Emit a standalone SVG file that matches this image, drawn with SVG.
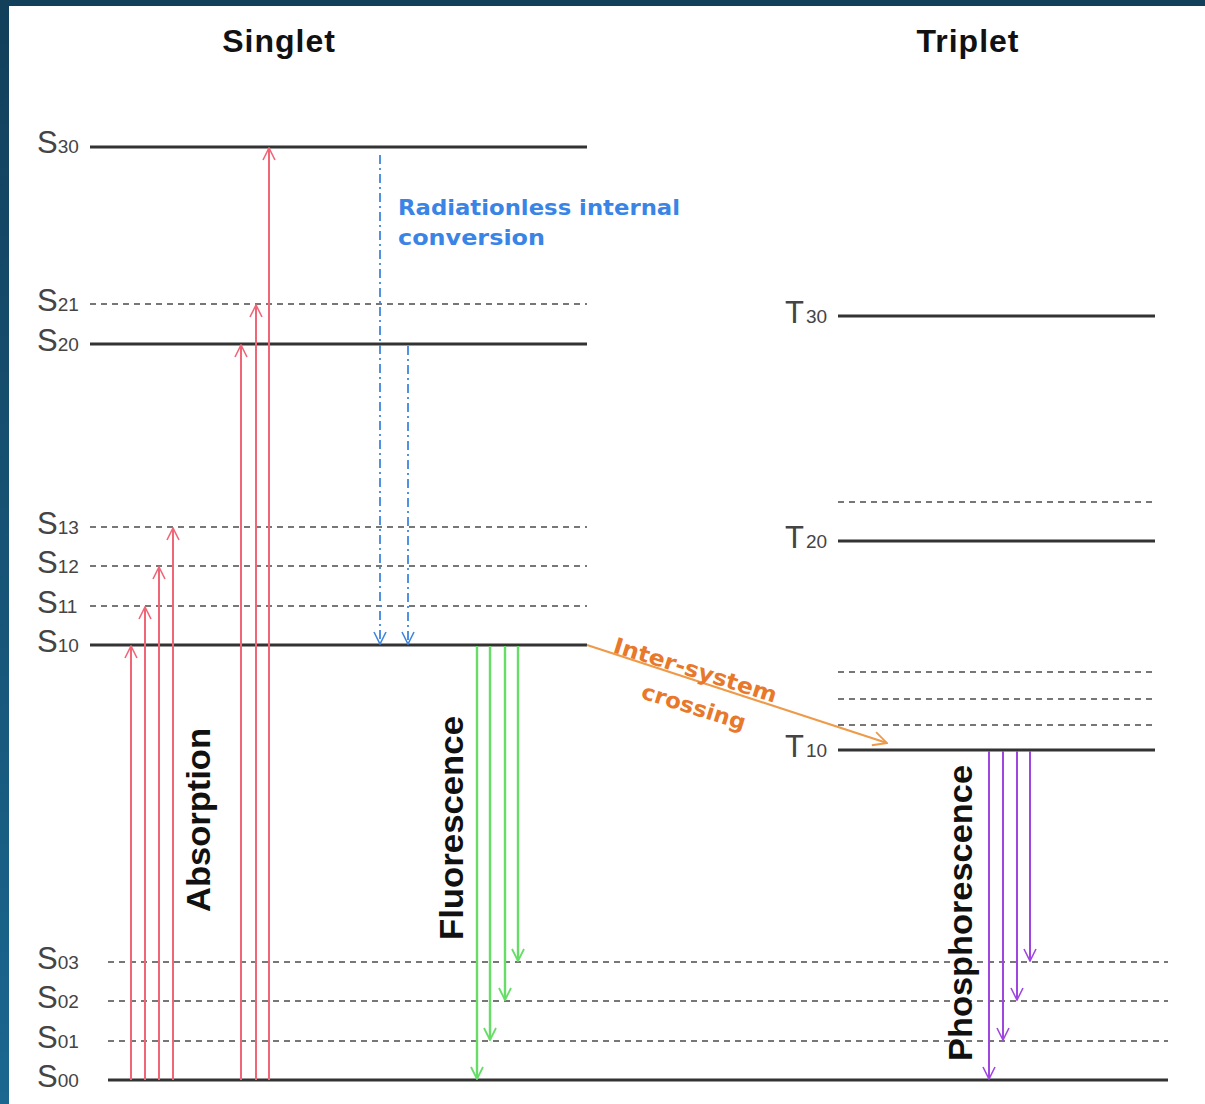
<svg xmlns="http://www.w3.org/2000/svg" width="1205" height="1104" viewBox="0 0 1205 1104">
<defs>
<linearGradient id="edge" x1="0" y1="0" x2="0" y2="1">
<stop offset="0" stop-color="#123f5a"/>
<stop offset="1" stop-color="#1b6790"/>
</linearGradient>
<marker id="mRed" viewBox="0 0 14 14" refX="13" refY="7" markerWidth="14" markerHeight="14" markerUnits="userSpaceOnUse" orient="auto"><path d="M1,1 L13,7 L1,13" fill="none" stroke="#f06677" stroke-width="1.6"/></marker>
<marker id="mBlue" viewBox="0 0 14 14" refX="13" refY="7" markerWidth="14" markerHeight="14" markerUnits="userSpaceOnUse" orient="auto"><path d="M1,1 L13,7 L1,13" fill="none" stroke="#3f86de" stroke-width="1.6"/></marker>
<marker id="mGreen" viewBox="0 0 14 14" refX="13" refY="7" markerWidth="14" markerHeight="14" markerUnits="userSpaceOnUse" orient="auto"><path d="M1,1 L13,7 L1,13" fill="none" stroke="#66dd66" stroke-width="1.8"/></marker>
<marker id="mPurple" viewBox="0 0 14 14" refX="13" refY="7" markerWidth="14" markerHeight="14" markerUnits="userSpaceOnUse" orient="auto"><path d="M1,1 L13,7 L1,13" fill="none" stroke="#a046e0" stroke-width="1.6"/></marker>
<marker id="mOrange" viewBox="0 0 14 14" refX="13" refY="7" markerWidth="16" markerHeight="16" markerUnits="userSpaceOnUse" orient="auto"><path d="M1,1 L13,7 L1,13" fill="none" stroke="#ee9a4a" stroke-width="1.6"/></marker>
</defs>
<style>
.solid{stroke:#333;stroke-width:3.2;fill:none}
.dash{stroke:#777;stroke-width:1.8;stroke-dasharray:6 5;fill:none}
.lbl{font-family:"Liberation Sans",Arial,sans-serif;fill:#444}
.big{font-size:31px}
.sub{font-size:19px}
.title{font-family:"Liberation Sans",Arial,sans-serif;font-weight:bold;font-size:32px;fill:#111}
.vert{font-family:"Liberation Sans",Arial,sans-serif;font-weight:bold;font-size:34px;fill:#111}
.note{font-family:"DejaVu Sans",Verdana,sans-serif;font-weight:bold;font-size:22px}
.red{stroke:#f06677;stroke-width:2;fill:none;marker-end:url(#mRed)}
.blue{stroke:#3f86de;stroke-width:1.8;fill:none;stroke-dasharray:9 4 2 4;marker-end:url(#mBlue)}
.green{stroke:#66dd66;stroke-width:2.4;fill:none;marker-end:url(#mGreen)}
.purple{stroke:#a046e0;stroke-width:2;fill:none;marker-end:url(#mPurple)}
.orange{stroke:#ee9a4a;stroke-width:2.2;fill:none;marker-end:url(#mOrange)}
</style>
<rect x="0" y="0" width="1205" height="1104" fill="#ffffff"/>
<rect x="0" y="0" width="1205" height="6" fill="#123f5a"/>
<rect x="0" y="0" width="9" height="1104" fill="url(#edge)"/>

<g id="titles">
<text class="title" x="279" y="52" text-anchor="middle" letter-spacing="1">Singlet</text>
<text class="title" x="968" y="52" text-anchor="middle" letter-spacing="1">Triplet</text>
</g>

<g id="levels">
<g id="S30"><line class="solid" x1="90" y1="147" x2="587" y2="147"/><text class="lbl" x="37" y="153"><tspan class="big">S</tspan><tspan class="sub">30</tspan></text></g>
<g id="S21"><line class="dash" x1="90" y1="304" x2="587" y2="304"/><text class="lbl" x="37" y="311"><tspan class="big">S</tspan><tspan class="sub">21</tspan></text></g>
<g id="S20"><line class="solid" x1="90" y1="344" x2="587" y2="344"/><text class="lbl" x="37" y="351"><tspan class="big">S</tspan><tspan class="sub">20</tspan></text></g>
<g id="S13"><line class="dash" x1="90" y1="527" x2="587" y2="527"/><text class="lbl" x="37" y="534"><tspan class="big">S</tspan><tspan class="sub">13</tspan></text></g>
<g id="S12"><line class="dash" x1="90" y1="566" x2="587" y2="566"/><text class="lbl" x="37" y="573"><tspan class="big">S</tspan><tspan class="sub">12</tspan></text></g>
<g id="S11"><line class="dash" x1="90" y1="606" x2="587" y2="606"/><text class="lbl" x="37" y="613"><tspan class="big">S</tspan><tspan class="sub">11</tspan></text></g>
<g id="S10"><line class="solid" x1="90" y1="645" x2="587" y2="645"/><text class="lbl" x="37" y="652"><tspan class="big">S</tspan><tspan class="sub">10</tspan></text></g>
<g id="S03"><line class="dash" x1="108" y1="962" x2="1168" y2="962"/><text class="lbl" x="37" y="969"><tspan class="big">S</tspan><tspan class="sub">03</tspan></text></g>
<g id="S02"><line class="dash" x1="108" y1="1001" x2="1168" y2="1001"/><text class="lbl" x="37" y="1008"><tspan class="big">S</tspan><tspan class="sub">02</tspan></text></g>
<g id="S01"><line class="dash" x1="108" y1="1041" x2="1168" y2="1041"/><text class="lbl" x="37" y="1048"><tspan class="big">S</tspan><tspan class="sub">01</tspan></text></g>
<g id="S00"><line class="solid" x1="108" y1="1080" x2="1168" y2="1080"/><text class="lbl" x="37" y="1087"><tspan class="big">S</tspan><tspan class="sub">00</tspan></text></g>
<g id="T30"><line class="solid" x1="838" y1="316" x2="1155" y2="316"/><text class="lbl" x="785" y="323"><tspan class="big">T</tspan><tspan class="sub" dx="2">30</tspan></text></g>
<g id="T2v"><line class="dash" x1="838" y1="502" x2="1157" y2="502"/></g>
<g id="T20"><line class="solid" x1="838" y1="541" x2="1155" y2="541"/><text class="lbl" x="785" y="548"><tspan class="big">T</tspan><tspan class="sub" dx="2">20</tspan></text></g>
<g id="T1v3"><line class="dash" x1="838" y1="672" x2="1155" y2="672"/></g>
<g id="T1v2"><line class="dash" x1="838" y1="699" x2="1155" y2="699"/></g>
<g id="T1v1"><line class="dash" x1="838" y1="725" x2="1155" y2="725"/></g>
<g id="T10"><line class="solid" x1="838" y1="750" x2="1155" y2="750"/><text class="lbl" x="785" y="757"><tspan class="big">T</tspan><tspan class="sub" dx="2">10</tspan></text></g>
</g>

<g id="connectors">
<line class="red" x1="131" y1="1080" x2="131" y2="646"/>
<line class="red" x1="145" y1="1080" x2="145" y2="607"/>
<line class="red" x1="159" y1="1080" x2="159" y2="567"/>
<line class="red" x1="173" y1="1080" x2="173" y2="528"/>
<line class="red" x1="241" y1="1080" x2="241" y2="345"/>
<line class="red" x1="256" y1="1080" x2="256" y2="305"/>
<line class="red" x1="269" y1="1080" x2="269" y2="148"/>
<line class="blue" x1="380" y1="155" x2="380" y2="644"/>
<line class="blue" x1="408" y1="346" x2="408" y2="644"/>
<line class="green" x1="477" y1="646" x2="477" y2="1079"/>
<line class="green" x1="490" y1="646" x2="490" y2="1040"/>
<line class="green" x1="505" y1="646" x2="505" y2="1000"/>
<line class="green" x1="518" y1="646" x2="518" y2="961"/>
<line class="purple" x1="989" y1="751" x2="989" y2="1079"/>
<line class="purple" x1="1003" y1="751" x2="1003" y2="1040"/>
<line class="purple" x1="1017" y1="751" x2="1017" y2="1000"/>
<line class="purple" x1="1030" y1="751" x2="1030" y2="961"/>
<line class="orange" x1="587" y1="645" x2="887" y2="743"/>
</g>

<g id="labels">
<text class="note" x="398" y="215" fill="#3a84e6" textLength="282" lengthAdjust="spacingAndGlyphs">Radiationless internal</text>
<text class="note" x="398" y="245" fill="#3a84e6" textLength="147" lengthAdjust="spacingAndGlyphs">conversion</text>
<g transform="translate(612,652) rotate(17.4)"><text class="note" fill="#e8782a" x="0" y="0" textLength="170" lengthAdjust="spacingAndGlyphs">Inter-system</text></g>
<g transform="translate(640,698) rotate(17.4)"><text class="note" fill="#e8782a" x="0" y="0" textLength="108" lengthAdjust="spacingAndGlyphs">crossing</text></g>
<text class="vert" transform="translate(210,820) rotate(-90)" text-anchor="middle" textLength="184" lengthAdjust="spacingAndGlyphs">Absorption</text>
<text class="vert" transform="translate(463,828) rotate(-90)" text-anchor="middle" textLength="224" lengthAdjust="spacingAndGlyphs">Fluorescence</text>
<text class="vert" transform="translate(972,913) rotate(-90)" text-anchor="middle" textLength="296" lengthAdjust="spacingAndGlyphs">Phosphorescence</text>
</g>
</svg>
